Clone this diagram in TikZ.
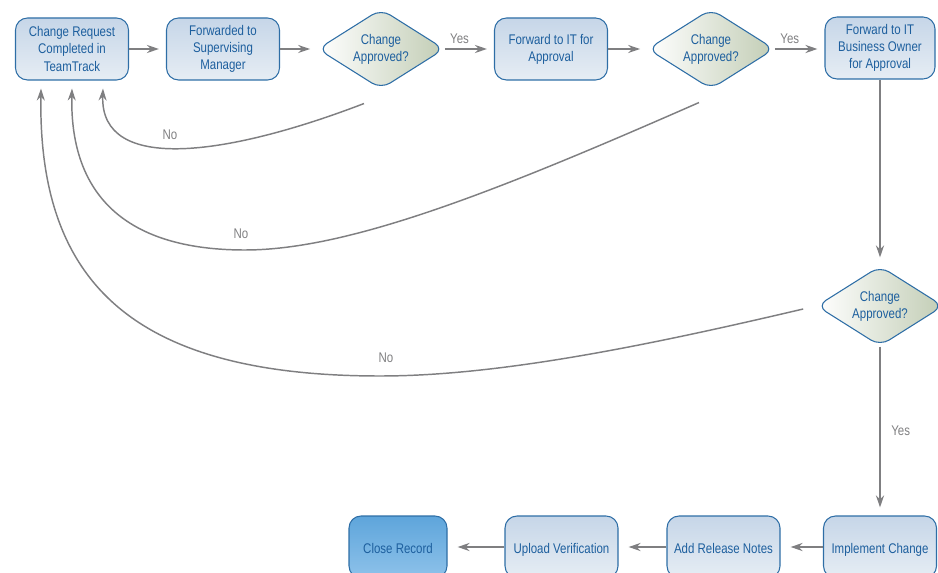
\documentclass[tikz,border=0pt]{standalone}
\usepackage{fontspec}
\setmainfont{Liberation Sans}[FakeStretch=0.82]
\usetikzlibrary{shapes.geometric,arrows.meta}
\definecolor{txtblue}{HTML}{1D5F9E}
\definecolor{edgeblue}{HTML}{2E6EA6}
\definecolor{boxtop}{HTML}{C6D6E8}
\definecolor{boxbot}{HTML}{E6EDF4}
\definecolor{okgreen}{HTML}{C2CDB5}
\definecolor{closetop}{HTML}{5EA5DB}
\definecolor{closebot}{HTML}{8EC2EA}
\definecolor{arrowgray}{HTML}{7F7F81}
\begin{document}
\begin{tikzpicture}[x=0.75pt,y=-0.75pt,font=\fontsize{10.5}{12.75}\selectfont,>={Stealth[length=9pt,width=6pt]},
	stepbox/.style={draw=edgeblue,line width=0.8pt,rounded corners=9pt,top color=boxtop,bottom color=boxbot,text=txtblue,align=center,minimum width=84.75pt,minimum height=46.5pt,inner sep=2pt},
	onerow/.style={text height=12pt,text depth=2.5pt},
	closebox/.style={top color=closetop,bottom color=closebot},
	decide/.style={diamond,draw=edgeblue,line width=0.8pt,rounded corners=8pt,left color=white,right color=okgreen,text=txtblue,align=center,aspect=1.6,inner sep=0pt,minimum width=95pt,minimum height=60pt},
	flow/.style={->,draw=arrowgray,line width=1.5pt,shorten >=5.25pt},
	back/.style={->,draw=arrowgray,line width=1.1pt},
	lbl/.style={text=arrowgray}]
	\useasboundingbox (0,0) rectangle (938,573);
	% top row
	\node[stepbox] (req) at (72,49) {Change Request\\Completed in\\TeamTrack};
	\node[stepbox] (sup) at (223,49) {Forwarded to\\Supervising\\Manager};
	\node[decide] (ok1) at (381,49) {Change\\Approved?};
	\node[stepbox] (itapp) at (551,49) {Forward to IT for\\Approval};
	\node[decide] (ok2) at (711,49) {Change\\Approved?};
	\node[stepbox,minimum width=82.5pt] (owner) at (880,48) {Forward to IT\\Business Owner\\for Approval};
	% right column and bottom row
	\node[decide] (ok3) at (880,306) {Change\\Approved?};
	\node[stepbox,onerow] (impl) at (880,547) {Implement Change};
	\node[stepbox,onerow] (notes) at (723.5,547) {Add Release Notes};
	\node[stepbox,onerow] (upload) at (561.5,547) {Upload Verification};
	\node[stepbox,onerow,closebox,minimum width=73.5pt] (close) at (398,547) {Close Record};
	% yes path
	\draw[flow] (req) -- (sup);
	\draw[flow] (sup) -- (ok1);
	\draw[flow] (ok1) -- (itapp) node[lbl,above,pos=0.3] (yes1) {Yes};
	\draw[flow] (itapp) -- (ok2);
	\draw[flow] (ok2) -- (ok2 -| owner.west) node[lbl,above,pos=0.3] (yes2) {Yes};
	\draw[flow,line width=2.2pt,shorten >=6pt] (owner) -- (ok3);
	\draw[flow,line width=2.2pt,shorten >=6pt] (ok3) -- (impl) node[lbl,right,pos=0.5,xshift=4pt] (yes3) {Yes};
	\foreach \a/\b in {impl/notes,notes/upload,upload/close}
		\draw[flow,shorten >=7.5pt] (\a) -- (\b);
	% no paths
	\draw[back] ([shift={(-17,14)}]ok1.south) .. controls (230,155) and (100,175) .. ([shift={(31,8)}]req.south);
	\draw[back] ([shift={(-12,13)}]ok2.south) .. controls (500,190) and (350,250) .. (245,250) .. controls (110,250) and (70,180) .. ([shift={(0,8)}]req.south);
	\draw[back] ([shift={(-13,3)}]ok3.west) .. controls (650,345) and (500,376) .. (380,376) .. controls (130,376) and (38,280) .. ([shift={(-31,8)}]req.south);
	\node[lbl] (no1) at (170,135) {No};
	\node[lbl] (no2) at (241,234) {No};
	\node[lbl] (no3) at (386,358) {No};
\end{tikzpicture}
\end{document}
